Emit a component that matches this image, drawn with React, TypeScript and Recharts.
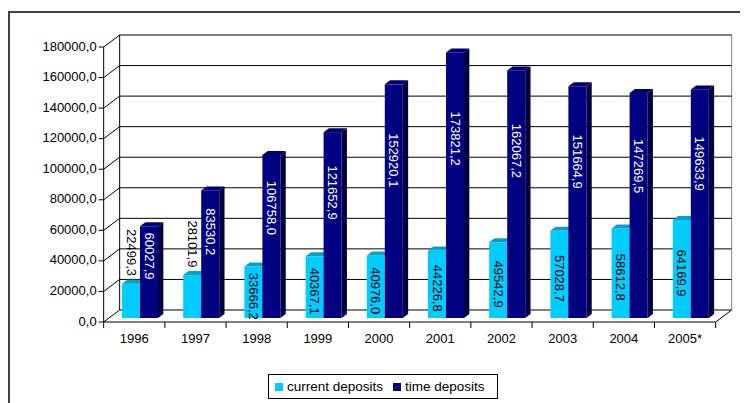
import React from 'react';
import { BarChart, Bar, XAxis, YAxis, CartesianGrid, Legend, LabelList } from 'recharts';

const years = ['1996', '1997', '1998', '1999', '2000', '2001', '2002', '2003', '2004', '2005*'];
const currentDeposits = [22499.3, 28101.9, 33666.2, 40367.1, 40976.0, 44226.8, 49542.9, 57028.7, 58612.8, 64169.9];
const timeDeposits = [60027.9, 83530.2, 106758.0, 121652.9, 152920.1, 173821.2, 162067.2, 151664.9, 147269.5, 149633.9];
const yTicks = [0, 20000, 40000, 60000, 80000, 100000, 120000, 140000, 160000, 180000];

const data = years.map((year, i) => ({ year, current: currentDeposits[i], time: timeDeposits[i] }));

// plot area (the plane of the bars' front faces)
const CHART_W = 740;
const CHART_H = 395;
const L = 101;
const T = 35;
const W = 612;
const H = 275;
const BAND = W / years.length;

// 3d offsets relative to the bar plane
const FX = -16 / 3;
const FY = 4;
const BKX = 32 / 3;
const BKY = -8;
const DEPTH_X = 16 / 3;
const DEPTH_Y = -4;

const FONT = '"Liberation Sans", Arial, sans-serif';
const LIGHT = '#00ccff';
const DARK = '#000080';

const fmt = (v: number) => v.toFixed(1).replace('.', ',');

const renderGridLine = (p: any) => {
  const { x1, x2, y1, index } = p;
  const isBottom = Math.abs(y1 - (T + H)) < 0.5;
  return (
    <g key={`grid-${index}`}>
      <line x1={x1 + BKX} y1={y1 + BKY} x2={x2 + BKX} y2={y1 + BKY} stroke="#000" />
      <line x1={x1 + FX} y1={y1 + FY} x2={x1 + BKX} y2={y1 + BKY} stroke="#000" />
      {isBottom && (
        <g>
          <line x1={L + BKX} y1={T + BKY} x2={L + BKX} y2={T + H + BKY} stroke="#000" />
          <line x1={L + W + BKX} y1={T + BKY} x2={L + W + BKX} y2={T + H + BKY} stroke="#888" />
          <line x1={L + FX} y1={T + FY} x2={L + FX} y2={T + H + FY} stroke="#000" />
          <line x1={L + FX} y1={T + H + FY} x2={L + W + FX} y2={T + H + FY} stroke="#000" />
          <line x1={L + W + FX} y1={T + H + FY} x2={L + W + BKX} y2={T + H + BKY} stroke="#000" />
        </g>
      )}
    </g>
  );
};

const makeShape = (front: string, top: string, side: string) => (props: any) => {
  const { x, y, width, height } = props;
  if (!height) return <g />;
  const topPts = `${x},${y} ${x + width},${y} ${x + width + DEPTH_X},${y + DEPTH_Y} ${x + DEPTH_X},${y + DEPTH_Y}`;
  const sidePts = `${x + width},${y} ${x + width + DEPTH_X},${y + DEPTH_Y} ${x + width + DEPTH_X},${y + height + DEPTH_Y} ${x + width},${y + height}`;
  return (
    <g>
      <polygon points={sidePts} fill={side} />
      <rect x={x} y={y} width={width} height={height} fill={front} />
      <polygon points={topPts} fill={top} />
    </g>
  );
};

const lightShape = makeShape(LIGHT, '#0aa0c4', '#0088aa');
const darkShape = makeShape(DARK, '#000070', '#000040');

const rotatedText = (cx: number, cy: number, text: string, fill: string) => (
  <text
    x={cx}
    y={cy}
    transform={`rotate(90 ${cx} ${cy})`}
    textAnchor="middle"
    dominantBaseline="central"
    fill={fill}
    fontSize={13}
    fontFamily={FONT}
  >
    {text}
  </text>
);

const currentLabel = (props: any) => {
  const vb = props.viewBox ?? props;
  const { x, y, width, height } = vb;
  const text = fmt(Number(props.value));
  const len = text.length * 6.9;
  const cx = x + width / 2;
  const cy = height > len - 2 ? y + height / 2 + 4 : y - 7 - len / 2;
  return rotatedText(cx, cy, text, '#000');
};

const timeLabel = (props: any) => {
  const vb = props.viewBox ?? props;
  const { x, y, width, height } = vb;
  const text = fmt(Number(props.value));
  return rotatedText(x + width / 2, y + height * 0.325, text, '#fff');
};

const YTick = (props: any) => {
  const { y, payload } = props;
  const fy = y + FY;
  return (
    <g>
      <line x1={L + FX - 5} y1={fy} x2={L + FX} y2={fy} stroke="#000" />
      <text x={L + FX - 7} y={fy + 3.5} textAnchor="end" fontSize={13} fontFamily={FONT} fill="#000">
        {fmt(payload.value)}
      </text>
    </g>
  );
};

const XTick = (props: any) => {
  const { x, payload, index } = props;
  const fx = x + FX;
  const base = T + H + FY;
  const last = index === years.length - 1;
  return (
    <g>
      <line x1={fx - BAND / 2} y1={base} x2={fx - BAND / 2} y2={base + 6} stroke="#000" />
      {last && <line x1={fx + BAND / 2} y1={base} x2={fx + BAND / 2} y2={base + 6} stroke="#000" />}
      <text x={fx} y={base + 20.7} textAnchor="middle" fontSize={13} fontFamily={FONT} fill="#000">
        {payload.value}
      </text>
    </g>
  );
};

const renderLegend = () => (
  <div
    style={{
      width: 230,
      height: 25,
      boxSizing: 'border-box',
      border: '1px solid #000',
      background: '#fff',
      display: 'flex',
      alignItems: 'center',
      fontFamily: FONT,
      fontSize: 13.5,
      color: '#000',
      whiteSpace: 'nowrap',
    }}
  >
    <span style={{ width: 8, height: 8, background: LIGHT, marginLeft: 6, marginRight: 4 }} />
    <span>current deposits</span>
    <span style={{ width: 8, height: 8, background: DARK, marginLeft: 10, marginRight: 4 }} />
    <span>time deposits</span>
  </div>
);

export default function App() {
  return (
    <div style={{ position: 'relative', width: CHART_W, height: CHART_H, background: '#fff' }}>
      <div
        style={{
          position: 'absolute',
          left: 0,
          top: 3,
          width: CHART_W,
          height: CHART_H - 3,
          boxSizing: 'border-box',
          borderLeft: '2px solid #444',
          borderTop: '2px solid #444',
          pointerEvents: 'none',
        }}
      />
      <BarChart
        width={CHART_W}
        height={CHART_H}
        data={data}
        margin={{ top: T, right: CHART_W - L - W, left: 0, bottom: 4 }}
        barSize={18}
        barGap={0}
      >
        <CartesianGrid vertical={false} horizontal={renderGridLine} />
        <XAxis
          dataKey="year"
          height={56}
          interval={0}
          axisLine={false}
          tickLine={false}
          tick={<XTick />}
        />
        <YAxis
          width={L}
          domain={[0, 180000]}
          ticks={yTicks}
          axisLine={false}
          tickLine={false}
          tick={<YTick />}
        />
        <Legend
          verticalAlign="bottom"
          height={25}
          wrapperStyle={{ left: 260, width: 230, bottom: 4 }}
          content={renderLegend}
        />
        <Bar dataKey="current" name="current deposits" fill={LIGHT} shape={lightShape} isAnimationActive={false}>
          <LabelList dataKey="current" content={currentLabel} />
        </Bar>
        <Bar dataKey="time" name="time deposits" fill={DARK} shape={darkShape} isAnimationActive={false}>
          <LabelList dataKey="time" content={timeLabel} />
        </Bar>
      </BarChart>
    </div>
  );
}
